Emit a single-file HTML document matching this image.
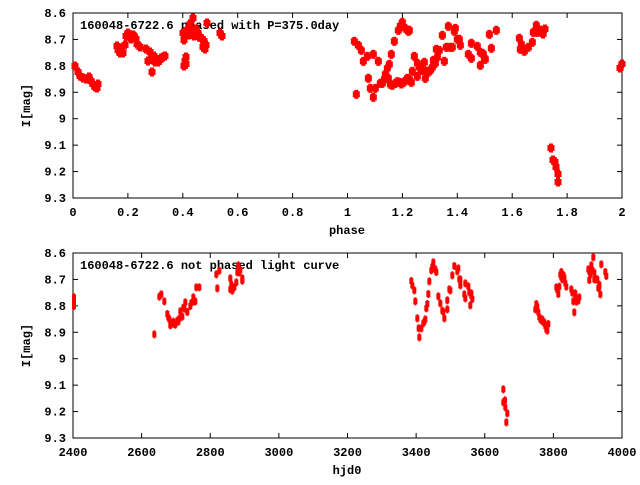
<!DOCTYPE html>
<html><head><meta charset="utf-8"><style>
html,body{margin:0;padding:0;background:#fff}
svg text{font-family:"Liberation Mono","DejaVu Sans Mono",monospace;font-weight:bold;font-size:12px;fill:#000}
</style></head><body>
<svg id="s" width="640" height="480" xmlns="http://www.w3.org/2000/svg"></svg>
<script>
(function(){
const S=document.getElementById('s');let h='';
const L=73,R=622;
function panel(T,B,xs,xlab){
 h+=`<rect x="${L}" y="${T}" width="${R-L}" height="${B-T}" fill="none" stroke="#000" stroke-width="1"/>`;
 for(let i=0;i<=7;i++){const y=T+(B-T)*i/7;
  h+=`<line x1="${L}" y1="${y}" x2="${L+5}" y2="${y}" stroke="#000"/><line x1="${R}" y1="${y}" x2="${R-5}" y2="${y}" stroke="#000"/>`;
  const v=(8.6+i*0.1).toFixed(1).replace(/\.0$/,'');
  h+=`<text x="66" y="${y+4}" text-anchor="end">${v}</text>`;}
 const n=xs.length-1;
 xs.forEach((v,i)=>{const x=L+(R-L)*i/n;
  h+=`<line x1="${x}" y1="${B}" x2="${x}" y2="${B-5}" stroke="#000"/><line x1="${x}" y1="${T}" x2="${x}" y2="${T+5}" stroke="#000"/>`;
  h+=`<text x="${x}" y="${B+18}" text-anchor="middle">${v}</text>`;});
 h+=`<text x="347" y="${B+36}" text-anchor="middle">${xlab}</text>`;
 h+=`<text transform="translate(30,${(T+B)/2}) rotate(-90)" text-anchor="middle">I[mag]</text>`;
}
panel(13,198,['0','0.2','0.4','0.6','0.8','1','1.2','1.4','1.6','1.8','2'],'phase');
panel(253,438,['2400','2600','2800','3000','3200','3400','3600','3800','4000'],'hjd0');
h+=`<text x="80" y="29">160048-6722.6 phased with P=375.0day</text>`;
h+=`<text x="80" y="269">160048-6722.6 not phased light curve</text>`;
const topPts=[[75,66],[78,72],[80,76],[83,78],[86,79],[89,77],[91,81],[93,84],[95,87],[97,88],[98,84],[117,46],[118,50],[121,48],[120,53],[123,53],[125,45],[126,36],[128,33],[130,37],[131,39],[133,35],[134,36],[136,39],[137,44],[140,47],[146,49],[148,61],[150,52],[152,57],[152,72],[154,56],[155,62],[156,60],[158,62],[160,60],[161,58],[163,57],[165,56],[183,33],[184,40],[185,61],[186,64],[187,30],[188,34],[189,35],[190,24],[191,30],[192,31],[193,18],[194,36],[196,29],[198,33],[199,37],[200,37],[202,39],[203,47],[204,41],[205,49],[206,45],[207,23],[220,33],[222,36],[186,57],[184,66]];
const z3=[[43,94],[55,106],[64,121],[49,253],[70,154],[82,139],[85,205],[91,235],[100,133],[100,262],[106,235],[115,154],[121,220],[127,220],[133,208],[136,193],[142,175],[145,205],[148,163],[151,223],[154,133],[157,226],[163,94],[166,220],[172,215],[175,61],[178,217],[181,48],[184,222],[187,37],[190,218],[196,55],[199,210],[202,205],[205,64],[208,61],[208,208],[214,217],[217,184],[223,139],[232,160],[232,199],[238,172],[244,181],[247,181],[253,157],[256,205],[259,184],[265,187],[271,181],[277,172],[280,151],[286,160],[289,118],[292,142],[298,121],[307,76],[313,154],[319,112],[325,49],[331,112],[337,112],[343,64],[346,55],[352,88],[358,88],[361,106],[385,133],[394,100],[394,145],[412,109],[421,127],[421,166],[427,130],[430,133],[433,145],[436,148],[448,73],[454,115],[469,61],[538,85],[541,118],[544,103],[553,124],[565,112],[577,97],[580,67],[589,46],[592,67]];
z3.forEach(p=>topPts.push([340+p[0]/3,10+p[1]/3]));
[[540,30],[543,34],[545,29],[551,148],[553,160],[555,162],[556,167],[558,174],[558,182],[620,68],[622,64]].forEach(p=>topPts.push(p));
topPts.forEach(p=>{const x=p[0],y=p[1];h+=`<rect x="${x-3.5}" y="${y-3}" width="7" height="6" fill="#f00"/><rect x="${x-2}" y="${y-4.5}" width="4" height="9" fill="#f00"/>`;});
const bot=[];
const z4=[[94,93],[97,106],[103,121],[106,154],[112,205],[116,235],[124,235],[118,262],[130,220],[133,215],[136,208],[139,175],[142,162],[145,132],[148,94],[154,61],[157,50],[160,37],[163,55],[166,58],[169,66],[175,139],[181,160],[187,182],[190,185],[193,205],[202,178],[202,151],[208,118],[211,121],[217,76],[223,48],[232,64],[235,55],[238,88],[241,106],[241,88],[253,133],[256,145],[256,100],[265,109],[268,127],[271,166],[274,130],[277,147],[274,137],[370,418],[370,457],[375,451],[376,472],[382,490],[379,517],[466,178],[469,162],[472,170],[475,187],[478,201],[481,208],[484,211],[487,208],[490,217],[493,217],[496,228],[499,238],[502,242],[505,222],[529,112],[532,120],[535,132],[538,110],[541,74],[544,66],[544,82],[547,88],[550,75],[553,82],[556,100],[559,110],[574,118],[577,128],[580,154],[583,187],[586,130],[586,142],[589,155],[592,150],[595,152],[598,142],[625,58],[628,65],[631,74],[634,46],[637,60],[640,22],[643,88],[643,68],[646,88],[649,88],[652,88],[655,114],[658,104],[661,133],[658,110],[664,43],[676,66],[679,78],[628,90]];
z4.forEach(p=>bot.push([380+p[0]/3,250+p[1]/3]));
const z2=[[222,172],[222,190],[222,198],[463,283],[478,170],[484,163],[493,184],[502,222],[505,232],[508,238],[511,256],[517,250],[520,245],[523,252],[526,254],[532,242],[535,245],[538,236],[541,214],[547,230],[550,203],[553,206],[556,187],[562,216],[571,198],[574,189],[580,172],[583,184],[586,184],[589,142],[598,142],[649,103],[652,145],[658,92],[691,115],[691,148],[694,133],[697,152],[703,142],[709,127],[712,97],[715,76],[718,97],[721,90],[727,115],[727,122]];
z2.forEach(p=>bot.push([p[0]/3,240+p[1]/3]));
bot.forEach(p=>{const x=p[0],y=p[1];h+=`<rect x="${x-2}" y="${y-3}" width="4" height="6" fill="#f00"/><rect x="${x-1}" y="${y-4}" width="2" height="8" fill="#f00"/>`;});
S.innerHTML=h;
})();
</script>
</body></html>
